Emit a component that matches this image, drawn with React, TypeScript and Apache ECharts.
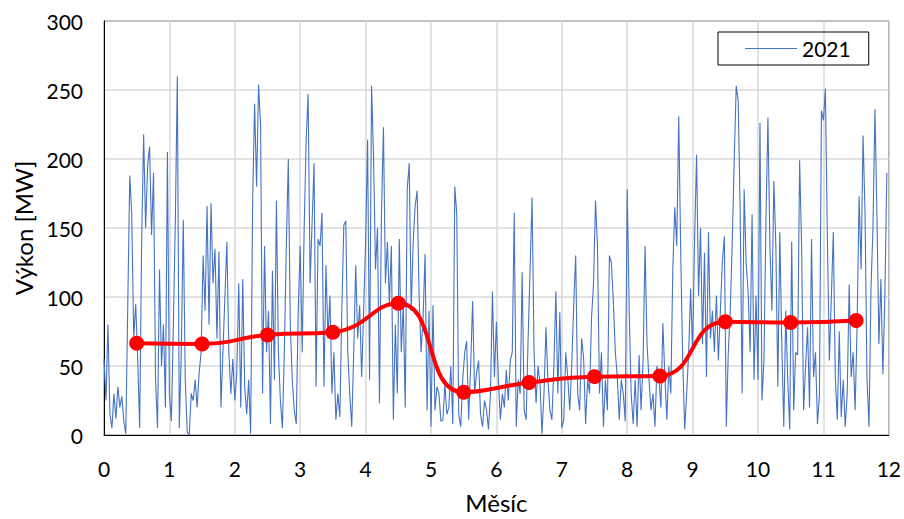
import React, { useEffect, useRef } from "react";
import * as echarts from "echarts";

// Hourly wind power 2021 (MW), ~33 samples per month
const jan = [55, 25, 80, 15, 5, 30, 12, 35, 20, 28, 10, 1, 95, 188, 160, 70, 95, 55, 5, 140, 218, 150, 195, 209, 145, 190, 40, 5, 120, 50, 80, 20, 205];
const feb = [30, 10, 80, 156, 260, 5, 60, 156, 40, 2, 0, 30, 25, 40, 20, 45, 60, 130, 90, 166, 80, 168, 110, 135, 70, 133, 20, 60, 100, 140, 60, 30, 55];
const mar = [25, 45, 110, 20, 113, 35, 15, 40, 1, 170, 240, 180, 254, 225, 30, 137, 60, 90, 8, 119, 40, 170, 60, 25, 5, 60, 137, 200, 80, 40, 18, 8, 90];
const apr = [137, 60, 150, 214, 247, 110, 154, 197, 35, 142, 137, 161, 35, 123, 70, 101, 30, 60, 11, 30, 13, 90, 152, 155, 60, 30, 6, 60, 123, 70, 94, 42, 90];
const may = [140, 214, 40, 253, 202, 120, 150, 23, 160, 223, 110, 140, 95, 137, 11, 80, 30, 142, 60, 95, 20, 178, 197, 90, 140, 166, 177, 100, 60, 85, 131, 18, 90];
const jun = [6, 94, 18, 35, 30, 10, 11, 37, 15, 20, 50, 8, 180, 160, 15, 6, 40, 60, 68, 11, 50, 97, 30, 45, 54, 15, 6, 25, 18, 4, 30, 104, 42];
const jul = [82, 40, 11, 30, 20, 47, 25, 54, 60, 161, 6, 40, 30, 118, 18, 11, 70, 121, 172, 60, 23, 50, 37, 1, 30, 78, 40, 18, 11, 50, 104, 30, 89];
const aug = [5, 11, 60, 42, 18, 50, 94, 130, 30, 18, 70, 56, 8, 40, 30, 85, 110, 170, 137, 30, 60, 6, 40, 18, 130, 125, 97, 60, 42, 11, 40, 30, 10];
const sep = [178, 90, 30, 8, 40, 6, 58, 18, 54, 137, 66, 40, 18, 30, 6, 50, 42, 20, 81, 42, 11, 50, 30, 120, 165, 137, 231, 132, 54, 4, 30, 60, 106];
const oct = [60, 142, 203, 101, 150, 66, 132, 42, 147, 70, 90, 60, 101, 54, 90, 125, 144, 6, 60, 90, 140, 200, 253, 242, 161, 30, 178, 125, 104, 60, 160, 40, 101];
const nov = [40, 226, 25, 54, 156, 230, 137, 90, 184, 137, 35, 147, 66, 6, 90, 40, 4, 140, 18, 60, 58, 199, 137, 18, 50, 78, 20, 142, 42, 60, 8, 30, 235];
const dec = [228, 251, 142, 54, 100, 147, 42, 11, 75, 13, 40, 6, 30, 109, 42, 60, 18, 80, 173, 120, 217, 161, 40, 6, 106, 150, 236, 161, 66, 113, 44, 101, 190];

const months = [jan, feb, mar, apr, may, jun, jul, aug, sep, oct, nov, dec];

// Monthly means
const meanX = [0.5, 1.5, 2.5, 3.5, 4.5, 5.5, 6.5, 7.5, 8.5, 9.5, 10.5, 11.5];
const meanY = [66.5, 66, 72.5, 74.5, 95.5, 31, 38, 42.3, 42.8, 82, 81.5, 83];

const seriesName = "2021";
const xTitle = "Měsíc";
const yTitle = "Výkon [MW]";

export default function App() {
  const ref = useRef<HTMLDivElement>(null);
  useEffect(() => {
    if (!ref.current) return;
    const chart = echarts.init(ref.current, undefined, { renderer: "svg" });
    const hourly: number[][] = [];
    months.forEach((arr, m) => {
      arr.forEach((v, i) => hourly.push([m + i / arr.length, v]));
    });
    const means = meanX.map((x, i) => [x, meanY[i]]);
    const font = "Lato, 'Liberation Sans', sans-serif";
    chart.setOption({
      animation: false,
      textStyle: { fontFamily: font },
      grid: {
        left: 104,
        right: 15,
        top: 21,
        bottom: 79,
        show: true,
        borderColor: "#000",
        borderWidth: 1,
      },
      legend: {
        data: [{ name: seriesName, icon: "rect" }],
        left: 718,
        top: 32,
        orient: "horizontal",
        borderColor: "#000",
        borderWidth: 1,
        padding: [6, 18, 6, 27],
        itemWidth: 52,
        itemHeight: 1.2,
        itemGap: 6,
        itemStyle: { color: "#4472C4" },
        textStyle: { fontSize: 21, color: "#000", fontFamily: font, lineHeight: 20 },
      },
      xAxis: {
        type: "value",
        min: 0,
        max: 12,
        interval: 1,
        name: xTitle,
        nameLocation: "middle",
        nameGap: 55,
        nameTextStyle: { fontSize: 24, color: "#000", fontFamily: font },
        axisLine: { show: true, lineStyle: { color: "#000", width: 1 } },
        axisTick: { show: false },
        axisLabel: { fontSize: 21, color: "#000", margin: 23, fontFamily: font },
        splitLine: { show: true, lineStyle: { color: "#d9d9d9", width: 1.5 } },
      },
      yAxis: {
        type: "value",
        min: 0,
        max: 300,
        interval: 50,
        name: yTitle,
        nameLocation: "middle",
        nameGap: 68,
        nameTextStyle: { fontSize: 24, color: "#000", fontFamily: font },
        axisLine: { show: true, lineStyle: { color: "#000", width: 1 } },
        axisTick: { show: false },
        axisLabel: { fontSize: 21, color: "#000", margin: 21, fontFamily: font },
        splitLine: { show: true, lineStyle: { color: "#d9d9d9", width: 1.5 } },
      },
      series: [
        {
          name: seriesName,
          type: "line",
          data: hourly,
          symbol: "none",
          lineStyle: { color: "#4472C4", width: 1.1 },
          itemStyle: { color: "#4472C4" },
          z: 2,
        },
        {
          name: "Průměr",
          type: "line",
          data: means,
          smooth: 0.5,
          symbol: "circle",
          symbolSize: 15,
          lineStyle: { color: "#FF0000", width: 4 },
          itemStyle: { color: "#FF0000" },
          z: 3,
        },
      ],
    });
    return () => chart.dispose();
  }, []);
  return (
    <div
      ref={ref}
      style={{ position: "fixed", left: 0, top: 0, width: 904, height: 519, background: "#fff" }}
    />
  );
}
